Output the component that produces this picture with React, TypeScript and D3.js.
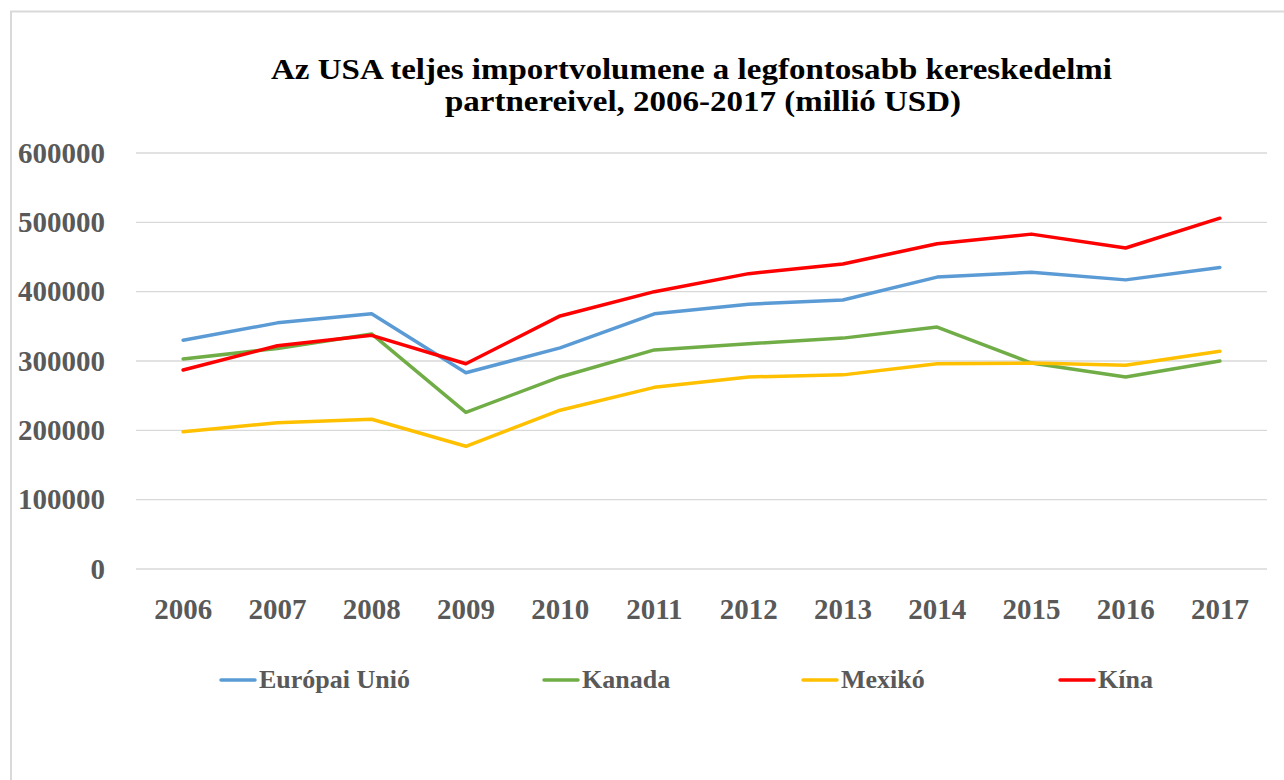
import React from "react";
import * as d3 from "d3";

const years = ["2006","2007","2008","2009","2010","2011","2012","2013","2014","2015","2016","2017"];
const eu = [330000,355000,368000,283000,319000,368000,382000,388000,421000,428000,417000,435000];
const kanada = [303000,318000,339000,226000,277000,316000,325000,333000,349000,297000,277000,300000];
const mexiko = [198000,211000,216000,177000,229000,262000,277000,280000,296000,297000,294000,314000];
const kina = [287000,322000,337000,296000,365000,400000,426000,440000,469000,483000,463000,506000];
const yTicks = [0,100000,200000,300000,400000,500000,600000];
const seriesNames = ["Európai Unió","Kanada","Mexikó","Kína"];
const seriesColors = ["#5B9BD5","#70AD47","#FFC000","#FF0000"];
const seriesData = [eu, kanada, mexiko, kina];
const titleLines = ["Az USA teljes importvolumene a legfontosabb kereskedelmi","partnereivel, 2006-2017 (millió USD)"];

const FONT = "'Liberation Serif', 'Times New Roman', serif";

export default function App() {
  const x = d3.scaleBand<string>().domain(years).range([136, 1267]);
  const y = d3.scaleLinear().domain([0, 600000]).range([569, 153]);
  const line = d3.line<number>()
    .x((_, i) => (x(years[i]) as number) + x.bandwidth() / 2)
    .y((d) => y(d));

  const legendX = [221, 544, 803, 1060];

  return (
    <svg width={1284} height={780} style={{ position: "absolute", left: 0, top: 0 }} fontFamily={FONT}>
      <rect x={0} y={0} width={1284} height={780} fill="#fff" />
      <path d="M11,781 L11,11.5 L1285,11.5" fill="none" stroke="#d9d9d9" strokeWidth={2} />
      <text x={271} y={79} fontSize={29} fontWeight="bold" fill="#000" textLength={841} lengthAdjust="spacingAndGlyphs">{titleLines[0]}</text>
      <text x={445} y={111} fontSize={29} fontWeight="bold" fill="#000" textLength={516} lengthAdjust="spacingAndGlyphs">{titleLines[1]}</text>
      {yTicks.map((t) => (
        <g key={t}>
          <line x1={136} x2={1267} y1={y(t)} y2={y(t)} stroke="#d9d9d9" strokeWidth={1.3} />
          <text x={105} y={y(t) + 9.5} textAnchor="end" fontSize={29} fontWeight="bold" fill="#595959">{t}</text>
        </g>
      ))}
      {years.map((yr) => (
        <text key={yr} x={(x(yr) as number) + x.bandwidth() / 2} y={619} textAnchor="middle" fontSize={29} fontWeight="bold" fill="#595959">{yr}</text>
      ))}
      {seriesData.map((s, i) => (
        <path key={i} d={line(s) as string} fill="none" stroke={seriesColors[i]} strokeWidth={3.5} strokeLinejoin="round" strokeLinecap="round" />
      ))}
      {seriesNames.map((n, i) => (
        <g key={n}>
          <line x1={legendX[i]} x2={legendX[i] + 34} y1={680} y2={680} stroke={seriesColors[i]} strokeWidth={3.5} strokeLinecap="round" />
          <text x={legendX[i] + 38} y={688} fontSize={26} fontWeight="bold" fill="#595959">{n}</text>
        </g>
      ))}
    </svg>
  );
}
